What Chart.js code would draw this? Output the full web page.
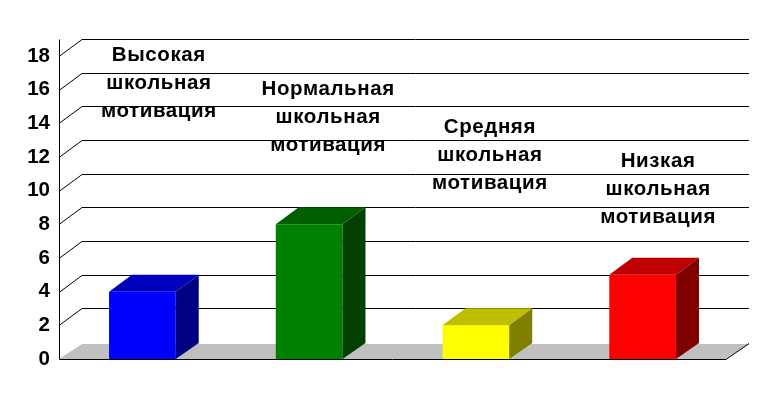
<!DOCTYPE html>
<html>
<head>
<meta charset="utf-8">
<script src="https://cdn.jsdelivr.net/npm/chart.js@4"></script>
<style>
  html, body { margin: 0; background: #fff; }
  canvas { display: block; }
</style>
</head>
<body>
<canvas id="myChart" width="784" height="400"></canvas>
<script>
const categories = [
  ['Высокая', 'школьная', 'мотивация'],
  ['Нормальная', 'школьная', 'мотивация'],
  ['Средняя', 'школьная', 'мотивация'],
  ['Низкая', 'школьная', 'мотивация']
];
const values = [4, 8, 2, 5];
const frontColors = ['#0000ff', '#008000', '#ffff00', '#ff0000'];
const topColors = ['#0000bf', '#006000', '#bfbf00', '#bf0000'];
const sideColors = ['#000080', '#004000', '#808000', '#800000'];

// label placement, each one sits right of its bar
const labelTops = [55, 89, 127, 161];
const labelShift = [16.5, 19, 14, 15.5];
const lineStep = 28;
const depthX = 23;
const depthY = 17;
const floorDepth = 15;
const font = 'bold 20.5px "Liberation Sans"';

const box3d = {
  id: 'box3d',
  beforeDatasetsDraw(chart) {
    const { ctx, chartArea: a, scales: { y } } = chart;
    ctx.save();
    // floor
    ctx.fillStyle = '#c0c0c0';
    ctx.beginPath();
    ctx.moveTo(a.left, a.bottom);
    ctx.lineTo(a.left + depthX, a.bottom - floorDepth);
    ctx.lineTo(a.right + depthX, a.bottom - floorDepth);
    ctx.lineTo(a.right, a.bottom);
    ctx.closePath();
    ctx.fill();
    // wall lines
    ctx.strokeStyle = '#000';
    ctx.lineWidth = 1;
    ctx.beginPath();
    y.ticks.forEach(t => {
      const py = Math.round(y.getPixelForValue(t.value)) + 0.5;
      if (t.value > 0) {
        ctx.moveTo(a.left, py);
        ctx.lineTo(a.left + depthX, py - depthY);
        ctx.lineTo(a.right + depthX, py - depthY);
      }
    });
    // front edge, right edge, axis
    const by = Math.round(a.bottom) + 0.5;
    ctx.moveTo(a.left + 0.5, Math.round(a.top) - depthY + 0.5);
    ctx.lineTo(a.left + 0.5, by);
    ctx.lineTo(a.right, by);
    ctx.lineTo(a.right + depthX, by - floorDepth - 1);
    ctx.stroke();
    ctx.restore();
  },
  afterDatasetsDraw(chart) {
    const { ctx } = chart;
    const bars = chart.getDatasetMeta(0).data;
    ctx.save();
    bars.forEach((bar, i) => {
      const l = bar.x - bar.width / 2;
      const r = bar.x + bar.width / 2;
      ctx.fillStyle = topColors[i];
      ctx.beginPath();
      ctx.moveTo(l, bar.y);
      ctx.lineTo(l + depthX, bar.y - depthY);
      ctx.lineTo(r + depthX, bar.y - depthY);
      ctx.lineTo(r, bar.y);
      ctx.closePath();
      ctx.fill();
      ctx.fillStyle = sideColors[i];
      ctx.beginPath();
      ctx.moveTo(r, bar.y);
      ctx.lineTo(r + depthX, bar.y - depthY);
      ctx.lineTo(r + depthX, bar.base - floorDepth - 1);
      ctx.lineTo(r, bar.base);
      ctx.closePath();
      ctx.fill();
    });
    // labels
    ctx.fillStyle = '#000';
    ctx.font = font;
    ctx.letterSpacing = '0.6px';
    ctx.textAlign = 'center';
    ctx.textBaseline = 'middle';
    bars.forEach((bar, i) => {
      categories[i].forEach((line, k) => {
        ctx.fillText(line, bar.x + labelShift[i], labelTops[i] + k * lineStep);
      });
    });
    ctx.restore();
  }
};

new Chart(document.getElementById('myChart'), {
  type: 'bar',
  plugins: [box3d],
  data: {
    labels: categories.map(c => c.join(' ')),
    datasets: [{
      data: values,
      backgroundColor: frontColors,
      barPercentage: 0.4,
      categoryPercentage: 1
    }]
  },
  options: {
    responsive: false,
    animation: false,
    layout: { padding: { top: 56, right: 58, bottom: 41, left: 0 } },
    plugins: { legend: { display: false }, tooltip: { enabled: false } },
    scales: {
      x: { display: false },
      y: {
        min: 0,
        max: 18,
        afterFit(scale) { scale.width = 59; },
        border: { display: false },
        grid: { display: false },
        ticks: {
          stepSize: 2,
          padding: 1,
          color: '#000',
          font: { family: 'Liberation Sans', size: 20.5, weight: 'bold' }
        }
      }
    }
  }
});
</script>
</body>
</html>
